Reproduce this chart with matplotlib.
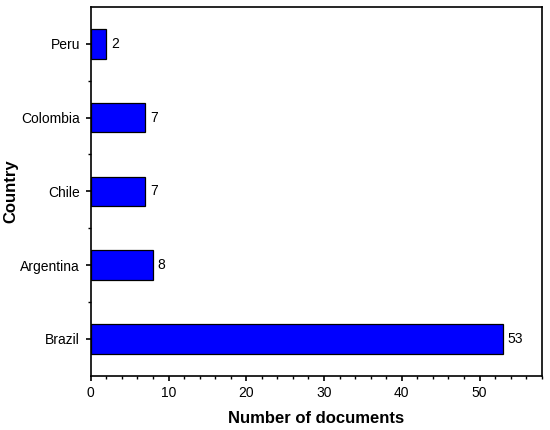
import matplotlib.pyplot as plt
from matplotlib.ticker import MultipleLocator, FixedLocator

plt.rcParams['font.family'] = ['Liberation Sans', 'DejaVu Sans']

countries = ['Brazil', 'Argentina', 'Chile', 'Colombia', 'Peru']
documents = [53, 8, 7, 7, 2]

fig = plt.figure(figsize=(5.5, 4.3), dpi=100)
ax = fig.add_axes([0.165, 0.126, 0.82, 0.858])

pos = range(len(countries))
bars = ax.barh(pos, documents, height=0.4, color='#0000ff', edgecolor='black', linewidth=0.9)

for b, v in zip(bars, documents):
    ax.text(b.get_width() + 0.6, b.get_y() + b.get_height() / 2, str(v),
            va='center', ha='left', fontsize=10)

ax.set_yticks(list(pos))
ax.set_yticklabels(countries, fontsize=10)
ax.yaxis.set_minor_locator(FixedLocator([0.5, 1.5, 2.5, 3.5]))
ax.set_ylim(-0.5, 4.5)

ax.set_xlim(0, 58)
ax.xaxis.set_major_locator(MultipleLocator(10))
ax.xaxis.set_minor_locator(MultipleLocator(2))
ax.tick_params(axis='x', labelsize=10)

ax.tick_params(which='major', direction='out', length=3.6, width=1.2, pad=4)
ax.tick_params(which='minor', direction='out', length=2.2, width=1.0)

for s in ax.spines.values():
    s.set_linewidth(1.2)

ax.set_xlabel('Number of documents', fontsize=12, fontweight='bold')
ax.set_ylabel('Country', fontsize=12, fontweight='bold')
ax.xaxis.set_label_coords(0.5, -0.095)
ax.yaxis.set_label_coords(-0.16, 0.5)

fig.savefig('out.png', dpi=100)
